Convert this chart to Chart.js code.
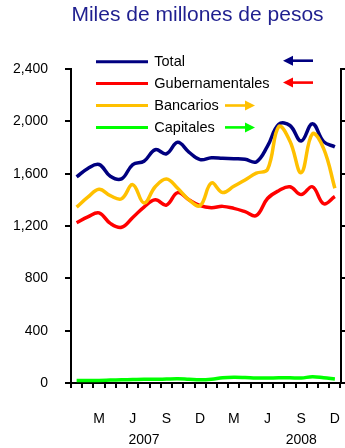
<!DOCTYPE html>
<html><head><meta charset="utf-8">
<style>html,body{margin:0;padding:0;background:#fff;}#wrap{width:345px;height:448px;position:relative;}</style>
<script src="https://cdn.jsdelivr.net/npm/chart.js@4.4.0/dist/chart.umd.min.js"></script>
</head><body><div id="wrap"><canvas id="c" width="345" height="448"></canvas></div>
<script>
const titleText = 'Miles de millones de pesos';
const months = ['E','F','M','A','M','J','J','A','S','O','N','D','E','F','M','A','M','J','J','A','S','O','N','D'];
const years = ['2007', '2008'];
const yearTickIndex = [6, 20];
const seriesNames = ['Total', 'Gubernamentales', 'Bancarios', 'Capitales'];
const seriesAxis = ['y', 'y', 'y1', 'y1'];
const seriesColors = ['#000080', '#ff0000', '#ffc000', '#00ff00'];
// left axis (miles de millones)
const total = [1575,1640,1670,1580,1560,1670,1695,1783,1752,1840,1765,1707,1722,1718,1714,1710,1690,1810,1978,1968,1850,1982,1845,1805];
const gubernamentales = [1225,1270,1300,1220,1190,1265,1345,1400,1360,1455,1400,1355,1340,1350,1335,1310,1280,1410,1470,1500,1440,1500,1370,1425];
// right axis
const bancarios = [336,355,370,358,352,379,344,375,390,372,350,339,382,364,376,388,401,408,490,462,402,476,448,372];
const capitales = [5,5,5,5.5,6,6.5,7,7,7.5,8,7,6,7,10,11,10.5,9.5,9.5,10,10,9.5,12,10,7.5];
const leftMin = 0, leftMax = 2400, leftStep = 400;
const rightMin = 0, rightMax = 600, rightStep = 100;

const seriesData = [total, gubernamentales, bancarios, capitales];
const FONT = '"Liberation Sans", Arial, sans-serif';

const titlePlugin = {
  id: 'titleText',
  afterDraw(chart) {
    const ctx = chart.ctx;
    ctx.save();
    ctx.font = '21px ' + FONT;
    ctx.fillStyle = '#1f1f8f';
    ctx.textAlign = 'center';
    ctx.textBaseline = 'middle';
    ctx.fillText(titleText, 197.5, 15);
    ctx.restore();
  }
};

function arrow(ctx, x1, x2, y, color) {
  const dir = Math.sign(x2 - x1);
  ctx.strokeStyle = color; ctx.fillStyle = color;
  ctx.lineWidth = 2.6;
  ctx.beginPath(); ctx.moveTo(x1, y); ctx.lineTo(x2 - dir * 8, y); ctx.stroke();
  ctx.beginPath(); ctx.moveTo(x2, y); ctx.lineTo(x2 - dir * 10, y - 5); ctx.lineTo(x2 - dir * 10, y + 5); ctx.closePath(); ctx.fill();
}

const legendPlugin = {
  id: 'legendBox',
  afterDraw(chart) {
    const ctx = chart.ctx;
    ctx.save();
    chart.data.datasets.forEach((ds, i) => {
      const y = 61.7 + i * 21.9;
      ctx.strokeStyle = ds.borderColor; ctx.lineWidth = 3;
      ctx.beginPath(); ctx.moveTo(96, y); ctx.lineTo(148, y); ctx.stroke();
      ctx.font = '14.5px ' + FONT;
      ctx.fillStyle = '#000';
      ctx.textAlign = 'left'; ctx.textBaseline = 'middle';
      ctx.fillText(ds.label, 154.3, y + 0.5);
      if (ds.yAxisID === 'y') arrow(ctx, 313, 283, y - 1, ds.borderColor);
      else arrow(ctx, 225, 255, y, ds.borderColor);
    });
    ctx.restore();
  }
};

new Chart(document.getElementById('c'), {
  type: 'line',
  data: {
    labels: months,
    datasets: seriesNames.map((n, i) => ({
      label: n,
      data: seriesData[i],
      yAxisID: seriesAxis[i],
      borderColor: seriesColors[i],
      backgroundColor: seriesColors[i],
      borderWidth: 3.5,
      pointRadius: 0,
      tension: 0.4,
      fill: false,
      order: 4 - i
    }))
  },
  options: {
    responsive: false,
    animation: false,
    events: [],
    layout: { padding: { top: 69, left: 0, right: 0, bottom: 0 } },
    plugins: { legend: { display: false }, title: { display: false }, tooltip: { enabled: false } },
    scales: {
      x: {
        type: 'category',
        offset: true,
        grid: { offset: true, drawOnChartArea: false, drawTicks: true, tickLength: 5, color: '#000', lineWidth: 2 },
        border: { display: true, color: '#000', width: 2 },
        ticks: {
          autoSkip: false, maxRotation: 0, minRotation: 0,
          color: '#000', padding: 20,
          font: { family: FONT, size: 14, lineHeight: 1.536 },
          callback: (v, i) => {
            const m = (i % 3 === 2) ? months[i] : '';
            const yi = yearTickIndex.indexOf(i);
            return yi >= 0 ? [m, years[yi]] : m;
          }
        },
        afterFit: (s) => { s.height = 65; s.paddingLeft = 0; s.paddingRight = 0; }
      },
      y: {
        position: 'left',
        min: leftMin, max: leftMax,
        grid: { drawOnChartArea: false, drawTicks: true, tickLength: 6, color: '#000', lineWidth: 2 },
        border: { display: true, color: '#000', width: 2 },
        ticks: {
          stepSize: leftStep, color: '#000', padding: 17,
          font: { family: FONT, size: 14 },
          callback: (v) => v.toLocaleString('en-US')
        },
        afterFit: (s) => { s.width = 71; }
      },
      y1: {
        position: 'right',
        min: rightMin, max: rightMax,
        grid: { drawOnChartArea: false, drawTicks: true, tickLength: 6, color: '#000', lineWidth: 2 },
        border: { display: true, color: '#000', width: 2 },
        ticks: { stepSize: rightStep, display: false },
        afterFit: (s) => { s.width = 4.5; }
      }
    }
  },
  plugins: [titlePlugin, legendPlugin]
});
</script></body></html>
